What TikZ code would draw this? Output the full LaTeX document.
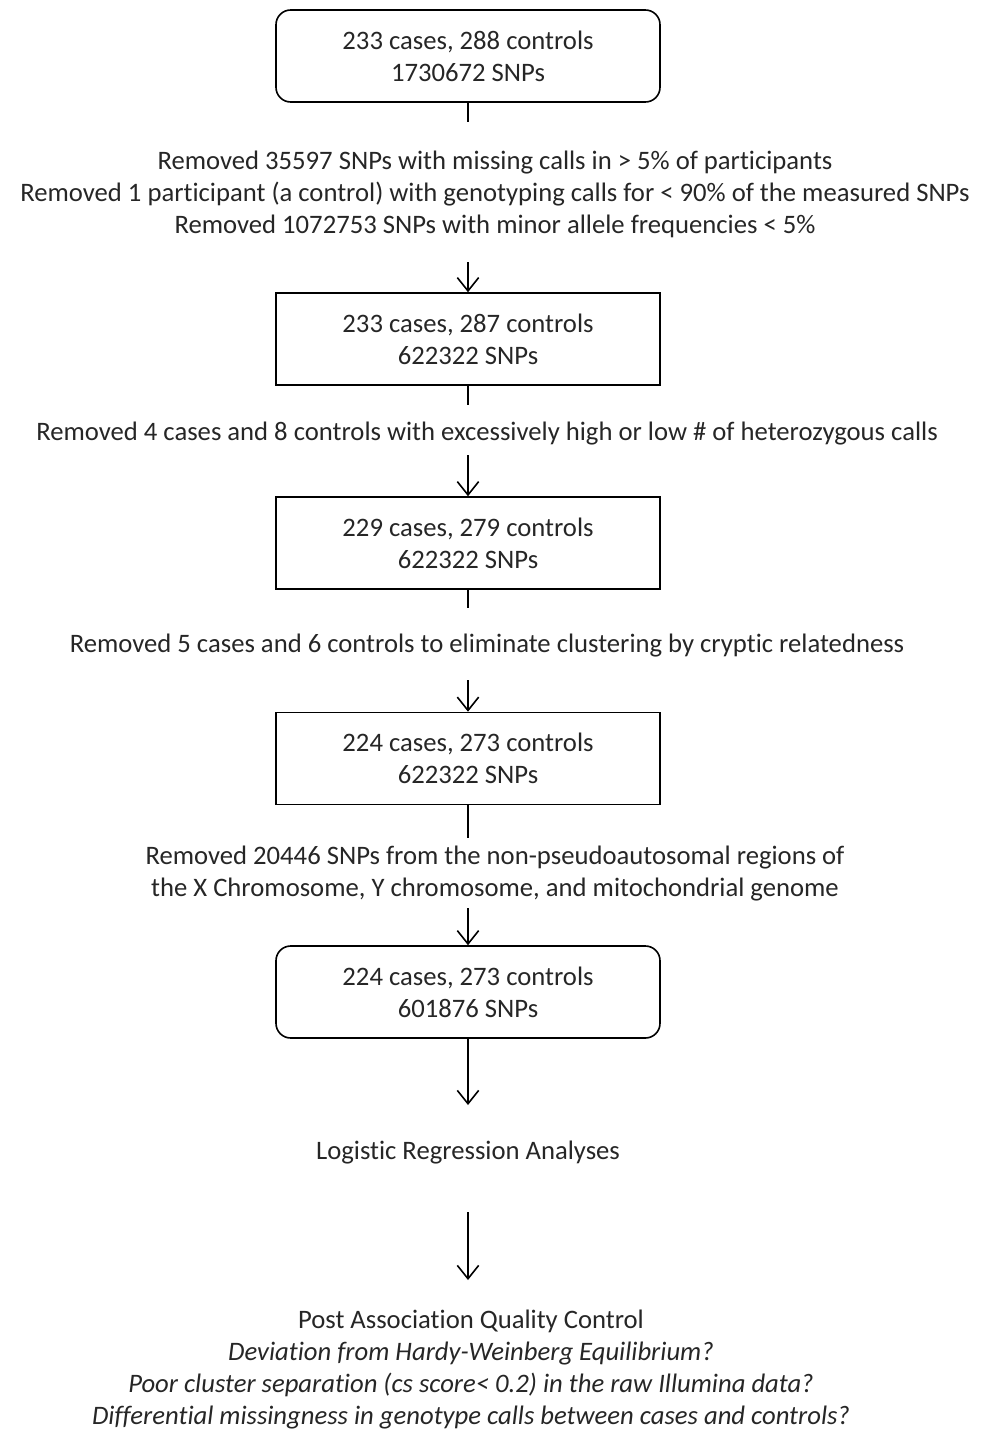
\documentclass[tikz,border=0pt]{standalone}
\usepackage{fontspec}
\setmainfont{Carlito}[Ligatures={NoCommon}]
\usetikzlibrary{arrows.meta}

\begin{document}
\begin{tikzpicture}[x=0.75pt, y=-0.75pt,
		every node/.style={font=\fontsize{20}{24}\selectfont, align=center, inner sep=0pt, text=black!85},
		stagebox/.style={draw=black, line width=1.2pt, minimum width=288pt, minimum height=69pt},
		roundbox/.style={stagebox, rounded corners=11pt},
		flow/.style={line width=1.2pt},
		flowarrow/.style={flow, -{Straight Barb[length=10pt, width=16pt, line width=1.2pt]}}]
		\useasboundingbox (0, 0) rectangle (982, 1430);
		% sample counts after each step
		\node[roundbox] (start) at (468, 56) {233 cases, 288 controls\\1730672 SNPs};
		\node[stagebox] (s2) at (468, 339) {233 cases, 287 controls\\622322 SNPs};
		\node[stagebox] (s3) at (468, 543) {229 cases, 279 controls\\622322 SNPs};
		\node[stagebox] (s4) at (468, 758.5) {224 cases, 273 controls\\622322 SNPs};
		\node[roundbox] (s5) at (468, 992) {224 cases, 273 controls\\601876 SNPs};
		% filtering steps
		\node (qc1) at (495, 194) {Removed 35597 SNPs with missing calls in > 5\% of participants\\
			Removed 1 participant (a control) with genotyping calls for < 90\% of the measured SNPs\\
			Removed 1072753 SNPs with minor allele frequencies < 5\%};
		\node (qc2) at (487, 434) {Removed 4 cases and 8 controls with excessively high or low \# of heterozygous calls};
		\node (qc3) at (487, 646) {Removed 5 cases and 6 controls to eliminate clustering by cryptic relatedness};
		\node (qc4) at (495, 874) {Removed 20446 SNPs from the non-pseudoautosomal regions of\\
			the X Chromosome, Y chromosome, and mitochondrial genome};
		\node (lra) at (468, 1153) {Logistic Regression Analyses};
		\node (post) at (471, 1370) {Post Association Quality Control\\
			\textit{Deviation from Hardy-Weinberg Equilibrium?}\\
			\textit{Poor cluster separation (cs score< 0.2) in the raw Illumina data?}\\
			\textit{Differential missingness in genotype calls between cases and controls?}};
		% connector ends
		\coordinate (e1) at (468, 122);
		\coordinate (a1) at (468, 262);
		\coordinate (e2) at (468, 405);
		\coordinate (a2) at (468, 455);
		\coordinate (e3) at (468, 608);
		\coordinate (a3) at (468, 680);
		\coordinate (e4) at (468, 838);
		\coordinate (a4) at (468, 908);
		\coordinate (t5) at (468, 1105);
		\coordinate (a6) at (468, 1212);
		\coordinate (t6) at (468, 1280);
		\draw[flow] (start) -- (e1);
		\draw[flowarrow] (a1) -- (s2);
		\draw[flow] (s2) -- (e2);
		\draw[flowarrow] (a2) -- (s3);
		\draw[flow] (s3) -- (e3);
		\draw[flowarrow] (a3) -- (s4);
		\draw[flow] (s4) -- (e4);
		\draw[flowarrow] (a4) -- (s5);
		\draw[flowarrow] (s5) -- (t5);
		\draw[flowarrow] (a6) -- (t6);
	\end{tikzpicture}
\end{document}
